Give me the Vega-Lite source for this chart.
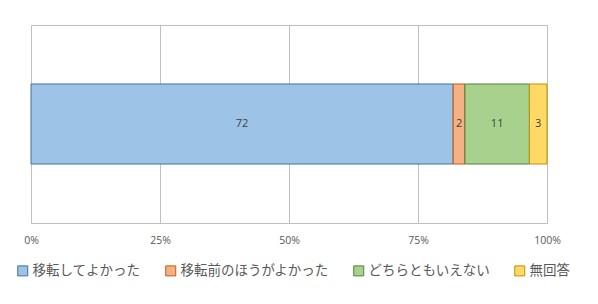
{
  "$schema": "https://vega.github.io/schema/vega-lite/v6.json",
  "width": 516,
  "height": 198,
  "autosize": {"type": "none"},
  "padding": {"left": 31, "top": 25, "right": 51, "bottom": 81},
  "background": "white",
  "config": {
    "view": {"stroke": "#BFBFBF", "strokeWidth": 1},
    "font": "Noto Sans CJK JP"
  },
  "data": {
    "values": [
      {"category": "移転してよかった", "value": 72, "order": 1},
      {"category": "移転前のほうがよかった", "value": 2, "order": 2},
      {"category": "どちらともいえない", "value": 11, "order": 3},
      {"category": "無回答", "value": 3, "order": 4}
    ]
  },
  "encoding": {
    "x": {
      "field": "value",
      "type": "quantitative",
      "stack": "normalize",
      "axis": {
        "format": "%",
        "values": [0, 0.25, 0.5, 0.75, 1],
        "grid": true,
        "gridColor": "#BFBFBF",
        "domain": false,
        "ticks": false,
        "labelFlush": false,
        "labelColor": "#595959",
        "labelFontSize": 10.5,
        "labelPadding": 12,
        "labelFont": "Open Sans",
        "title": null
      }
    },
    "order": {"field": "order", "type": "quantitative"}
  },
  "layer": [
    {
      "mark": {"type": "bar", "size": 80, "strokeWidth": 1},
      "encoding": {
        "fill": {
          "field": "category",
          "type": "nominal",
          "scale": {
            "domain": ["移転してよかった", "移転前のほうがよかった", "どちらともいえない", "無回答"],
            "range": ["#9DC3E6", "#F4B183", "#A9D18E", "#FFD966"]
          },
          "legend": {
            "orient": "none",
            "legendX": -15,
            "legendY": 239,
            "direction": "horizontal",
            "columns": 4,
            "columnPadding": 22,
            "title": null,
            "symbolType": "square",
            "symbolSize": 100,
            "symbolStrokeWidth": 1,
            "labelFontSize": 13.5,
            "labelColor": "#595959",
            "labelFont": "Noto Sans CJK JP",
            "labelOffset": 3,
            "labelLimit": 300
          }
        },
        "stroke": {
          "field": "category",
          "type": "nominal",
          "scale": {
            "domain": ["移転してよかった", "移転前のほうがよかった", "どちらともいえない", "無回答"],
            "range": ["#41719C", "#C55A11", "#538135", "#BF9000"]
          },
          "legend": null
        }
      }
    },
    {
      "mark": {"type": "text", "color": "#404040", "fontSize": 11, "font": "Open Sans"},
      "encoding": {
        "x": {
          "field": "value",
          "type": "quantitative",
          "stack": "normalize",
          "bandPosition": 0.5
        },
        "text": {"field": "value", "type": "quantitative"}
      }
    }
  ]
}
